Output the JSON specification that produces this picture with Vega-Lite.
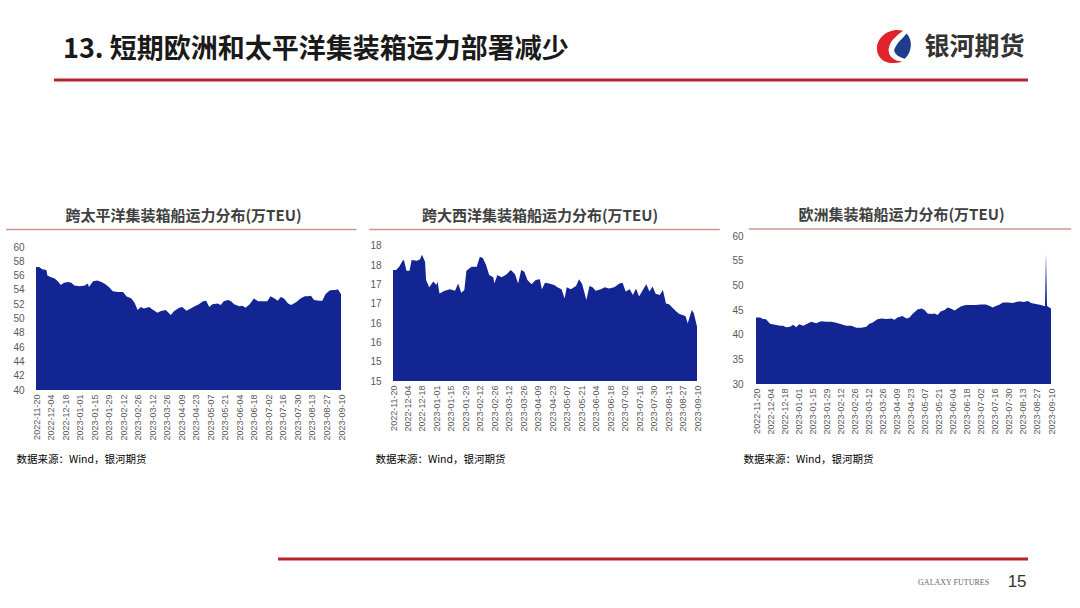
{
  "$schema": "https://vega.github.io/schema/vega-lite/v6.json",
  "padding": {"left": 5, "top": 20, "right": 0, "bottom": 0},
  "background": "white",
  "config": {
    "view": {"stroke": null},
    "font": "Noto Sans CJK SC",
    "title": {"fontSize": 15, "fontWeight": "bold", "color": "#404040", "offset": 5, "anchor": "middle", "font": "Noto Sans CJK SC"},
    "axis": {"labelFont": "Liberation Sans", "grid": false, "ticks": false, "domain": false}
  },
  "datasets": {
    "pac": [
      {"date": "2022-11-20", "v": 57.2}, {"date": "2022-11-23", "v": 57.2}, {"date": "2022-11-26", "v": 56.9}, {"date": "2022-11-30", "v": 56.8},
      {"date": "2022-12-01", "v": 56.0}, {"date": "2022-12-04", "v": 55.8}, {"date": "2022-12-08", "v": 55.6}, {"date": "2022-12-11", "v": 55.2},
      {"date": "2022-12-14", "v": 54.7}, {"date": "2022-12-17", "v": 55.0}, {"date": "2022-12-21", "v": 55.1}, {"date": "2022-12-24", "v": 55.0},
      {"date": "2022-12-27", "v": 54.6}, {"date": "2023-01-01", "v": 54.5}, {"date": "2023-01-06", "v": 54.6}, {"date": "2023-01-09", "v": 54.9},
      {"date": "2023-01-10", "v": 54.4}, {"date": "2023-01-14", "v": 55.2}, {"date": "2023-01-18", "v": 55.3}, {"date": "2023-01-22", "v": 55.1},
      {"date": "2023-01-26", "v": 54.8}, {"date": "2023-01-30", "v": 54.3}, {"date": "2023-02-02", "v": 53.8}, {"date": "2023-02-07", "v": 53.7},
      {"date": "2023-02-12", "v": 53.7}, {"date": "2023-02-15", "v": 53.1}, {"date": "2023-02-20", "v": 52.8}, {"date": "2023-02-23", "v": 52.2},
      {"date": "2023-02-26", "v": 51.2}, {"date": "2023-03-01", "v": 51.6}, {"date": "2023-03-04", "v": 51.4}, {"date": "2023-03-09", "v": 51.6},
      {"date": "2023-03-12", "v": 51.3}, {"date": "2023-03-17", "v": 50.8}, {"date": "2023-03-20", "v": 51.0}, {"date": "2023-03-25", "v": 51.2},
      {"date": "2023-03-27", "v": 50.9}, {"date": "2023-03-30", "v": 50.5}, {"date": "2023-04-02", "v": 51.0}, {"date": "2023-04-07", "v": 51.5},
      {"date": "2023-04-10", "v": 51.6}, {"date": "2023-04-14", "v": 51.1}, {"date": "2023-04-18", "v": 51.4}, {"date": "2023-04-23", "v": 51.8},
      {"date": "2023-04-26", "v": 52.0}, {"date": "2023-04-30", "v": 52.4}, {"date": "2023-05-03", "v": 52.5}, {"date": "2023-05-06", "v": 51.6},
      {"date": "2023-05-09", "v": 52.0}, {"date": "2023-05-14", "v": 52.1}, {"date": "2023-05-17", "v": 51.9}, {"date": "2023-05-20", "v": 52.4},
      {"date": "2023-05-24", "v": 52.6}, {"date": "2023-05-27", "v": 52.4}, {"date": "2023-05-30", "v": 52.0}, {"date": "2023-06-04", "v": 51.7},
      {"date": "2023-06-07", "v": 51.8}, {"date": "2023-06-10", "v": 51.5}, {"date": "2023-06-14", "v": 52.0}, {"date": "2023-06-18", "v": 52.8},
      {"date": "2023-06-22", "v": 52.4}, {"date": "2023-06-26", "v": 52.4}, {"date": "2023-07-01", "v": 52.4}, {"date": "2023-07-04", "v": 53.1},
      {"date": "2023-07-08", "v": 52.8}, {"date": "2023-07-11", "v": 52.5}, {"date": "2023-07-14", "v": 53.0}, {"date": "2023-07-17", "v": 52.8},
      {"date": "2023-07-21", "v": 52.1}, {"date": "2023-07-24", "v": 51.9}, {"date": "2023-07-29", "v": 52.3}, {"date": "2023-08-02", "v": 52.8},
      {"date": "2023-08-06", "v": 53.1}, {"date": "2023-08-09", "v": 53.1}, {"date": "2023-08-12", "v": 53.2}, {"date": "2023-08-15", "v": 52.6},
      {"date": "2023-08-20", "v": 52.5}, {"date": "2023-08-23", "v": 52.5}, {"date": "2023-08-26", "v": 53.4}, {"date": "2023-08-30", "v": 53.9},
      {"date": "2023-09-02", "v": 54.0}, {"date": "2023-09-05", "v": 54.0}, {"date": "2023-09-07", "v": 54.1}, {"date": "2023-09-10", "v": 53.4}
    ],
    "atl": [
      {"date": "2022-11-20", "v": 17.88}, {"date": "2022-11-23", "v": 17.88}, {"date": "2022-11-26", "v": 17.96}, {"date": "2022-11-30", "v": 18.15},
      {"date": "2022-12-01", "v": 18.09}, {"date": "2022-12-03", "v": 17.86}, {"date": "2022-12-06", "v": 17.86}, {"date": "2022-12-08", "v": 18.14},
      {"date": "2022-12-13", "v": 18.12}, {"date": "2022-12-16", "v": 18.15}, {"date": "2022-12-18", "v": 18.27}, {"date": "2022-12-21", "v": 18.09},
      {"date": "2022-12-22", "v": 17.62}, {"date": "2022-12-25", "v": 17.43}, {"date": "2022-12-29", "v": 17.58}, {"date": "2023-01-01", "v": 17.49},
      {"date": "2023-01-02", "v": 17.58}, {"date": "2023-01-04", "v": 17.27}, {"date": "2023-01-09", "v": 17.34}, {"date": "2023-01-14", "v": 17.38},
      {"date": "2023-01-19", "v": 17.34}, {"date": "2023-01-22", "v": 17.53}, {"date": "2023-01-25", "v": 17.29}, {"date": "2023-01-28", "v": 17.36},
      {"date": "2023-01-30", "v": 17.86}, {"date": "2023-02-04", "v": 17.96}, {"date": "2023-02-09", "v": 17.96}, {"date": "2023-02-12", "v": 18.22},
      {"date": "2023-02-15", "v": 18.18}, {"date": "2023-02-18", "v": 18.01}, {"date": "2023-02-21", "v": 17.75}, {"date": "2023-02-25", "v": 17.69},
      {"date": "2023-02-26", "v": 17.53}, {"date": "2023-03-01", "v": 17.75}, {"date": "2023-03-05", "v": 17.69}, {"date": "2023-03-10", "v": 17.77},
      {"date": "2023-03-14", "v": 17.88}, {"date": "2023-03-18", "v": 17.77}, {"date": "2023-03-21", "v": 17.53}, {"date": "2023-03-24", "v": 17.88},
      {"date": "2023-03-27", "v": 17.83}, {"date": "2023-03-30", "v": 17.62}, {"date": "2023-04-03", "v": 17.51}, {"date": "2023-04-07", "v": 17.62},
      {"date": "2023-04-11", "v": 17.64}, {"date": "2023-04-13", "v": 17.38}, {"date": "2023-04-16", "v": 17.55}, {"date": "2023-04-20", "v": 17.53},
      {"date": "2023-04-25", "v": 17.49}, {"date": "2023-04-28", "v": 17.43}, {"date": "2023-05-02", "v": 17.38}, {"date": "2023-05-05", "v": 17.14},
      {"date": "2023-05-07", "v": 17.43}, {"date": "2023-05-11", "v": 17.38}, {"date": "2023-05-16", "v": 17.46}, {"date": "2023-05-19", "v": 17.64},
      {"date": "2023-05-22", "v": 17.51}, {"date": "2023-05-26", "v": 17.10}, {"date": "2023-05-29", "v": 17.46}, {"date": "2023-06-01", "v": 17.43},
      {"date": "2023-06-04", "v": 17.34}, {"date": "2023-06-09", "v": 17.38}, {"date": "2023-06-13", "v": 17.43}, {"date": "2023-06-17", "v": 17.40},
      {"date": "2023-06-22", "v": 17.43}, {"date": "2023-06-27", "v": 17.53}, {"date": "2023-06-30", "v": 17.55}, {"date": "2023-07-03", "v": 17.32},
      {"date": "2023-07-07", "v": 17.38}, {"date": "2023-07-10", "v": 17.23}, {"date": "2023-07-13", "v": 17.40}, {"date": "2023-07-16", "v": 17.19},
      {"date": "2023-07-20", "v": 17.38}, {"date": "2023-07-23", "v": 17.51}, {"date": "2023-07-26", "v": 17.32}, {"date": "2023-07-29", "v": 17.45},
      {"date": "2023-08-01", "v": 17.26}, {"date": "2023-08-05", "v": 17.23}, {"date": "2023-08-08", "v": 17.36}, {"date": "2023-08-11", "v": 17.01},
      {"date": "2023-08-14", "v": 16.99}, {"date": "2023-08-18", "v": 16.88}, {"date": "2023-08-21", "v": 16.80}, {"date": "2023-08-24", "v": 16.74},
      {"date": "2023-08-27", "v": 16.71}, {"date": "2023-08-30", "v": 16.68}, {"date": "2023-09-01", "v": 16.49}, {"date": "2023-09-03", "v": 16.67},
      {"date": "2023-09-05", "v": 16.84}, {"date": "2023-09-07", "v": 16.75}, {"date": "2023-09-10", "v": 16.41}
    ],
    "eur": [
      {"date": "2022-11-20", "v": 43.5}, {"date": "2022-11-24", "v": 43.5}, {"date": "2022-11-27", "v": 43.2}, {"date": "2022-11-30", "v": 43.1},
      {"date": "2022-12-04", "v": 42.2}, {"date": "2022-12-09", "v": 42.0}, {"date": "2022-12-14", "v": 41.8}, {"date": "2022-12-17", "v": 41.8},
      {"date": "2022-12-20", "v": 41.5}, {"date": "2022-12-24", "v": 41.6}, {"date": "2022-12-27", "v": 42.0}, {"date": "2022-12-30", "v": 41.5},
      {"date": "2023-01-02", "v": 42.1}, {"date": "2023-01-06", "v": 41.8}, {"date": "2023-01-11", "v": 42.3}, {"date": "2023-01-14", "v": 42.6},
      {"date": "2023-01-19", "v": 42.3}, {"date": "2023-01-24", "v": 42.7}, {"date": "2023-01-29", "v": 42.6}, {"date": "2023-02-03", "v": 42.6},
      {"date": "2023-02-08", "v": 42.4}, {"date": "2023-02-13", "v": 42.1}, {"date": "2023-02-18", "v": 41.8}, {"date": "2023-02-23", "v": 41.8},
      {"date": "2023-02-28", "v": 41.4}, {"date": "2023-03-05", "v": 41.4}, {"date": "2023-03-10", "v": 41.6}, {"date": "2023-03-13", "v": 42.2},
      {"date": "2023-03-16", "v": 42.4}, {"date": "2023-03-21", "v": 43.1}, {"date": "2023-03-25", "v": 43.3}, {"date": "2023-03-30", "v": 43.2},
      {"date": "2023-04-04", "v": 43.3}, {"date": "2023-04-07", "v": 43.0}, {"date": "2023-04-10", "v": 43.5}, {"date": "2023-04-15", "v": 43.8},
      {"date": "2023-04-19", "v": 43.3}, {"date": "2023-04-22", "v": 43.5}, {"date": "2023-04-25", "v": 44.2}, {"date": "2023-04-30", "v": 45.1},
      {"date": "2023-05-04", "v": 45.3}, {"date": "2023-05-07", "v": 45.0}, {"date": "2023-05-10", "v": 44.3}, {"date": "2023-05-14", "v": 44.2},
      {"date": "2023-05-17", "v": 44.3}, {"date": "2023-05-20", "v": 44.0}, {"date": "2023-05-23", "v": 44.7}, {"date": "2023-05-27", "v": 45.0},
      {"date": "2023-05-30", "v": 45.5}, {"date": "2023-06-02", "v": 45.3}, {"date": "2023-06-06", "v": 44.9}, {"date": "2023-06-09", "v": 45.3},
      {"date": "2023-06-12", "v": 45.7}, {"date": "2023-06-17", "v": 46.0}, {"date": "2023-06-22", "v": 46.0}, {"date": "2023-06-27", "v": 46.0},
      {"date": "2023-07-02", "v": 46.1}, {"date": "2023-07-07", "v": 46.1}, {"date": "2023-07-11", "v": 45.8}, {"date": "2023-07-14", "v": 45.5},
      {"date": "2023-07-17", "v": 45.8}, {"date": "2023-07-21", "v": 46.1}, {"date": "2023-07-24", "v": 46.5}, {"date": "2023-07-29", "v": 46.5},
      {"date": "2023-08-03", "v": 46.4}, {"date": "2023-08-08", "v": 46.7}, {"date": "2023-08-11", "v": 46.7}, {"date": "2023-08-14", "v": 46.6},
      {"date": "2023-08-18", "v": 46.8}, {"date": "2023-08-21", "v": 46.4}, {"date": "2023-08-26", "v": 46.2}, {"date": "2023-08-31", "v": 46.0},
      {"date": "2023-09-03", "v": 45.8}, {"date": "2023-09-04", "v": 45.8}, {"date": "2023-09-05", "v": 56.5}, {"date": "2023-09-06", "v": 45.8},
      {"date": "2023-09-10", "v": 45.3}
    ]
  },
  "spacing": 126,
  "vconcat": [
    {
      "width": 992,
      "height": 60,
      "data": {"values": [{"title": "13. 短期欧洲和太平洋集装箱运力部署减少", "brand": "银河期货"}]},
      "layer": [
        {
          "mark": {"type": "rule", "color": "#B3252B", "strokeWidth": 3},
          "encoding": {
            "x": {"datum": 0.0181, "type": "quantitative", "scale": {"domain": [0, 1]}, "axis": null},
            "x2": {"datum": 1},
            "y": {"datum": 0, "type": "quantitative", "scale": {"domain": [0, 1]}, "axis": null}
          }
        },
        {
          "mark": {"type": "text", "align": "left", "baseline": "middle", "fontSize": 27, "fontWeight": "bold", "color": "#1A1A1A", "font": "Noto Sans CJK SC"},
          "encoding": {
            "x": {"datum": 0.0272, "type": "quantitative", "scale": {"domain": [0, 1]}, "axis": null},
            "y": {"datum": 0.5, "type": "quantitative", "scale": {"domain": [0, 1]}, "axis": null},
            "text": {"field": "title"}
          }
        },
        {
          "mark": {"type": "text", "align": "center", "baseline": "middle", "fontSize": 25, "fontWeight": "bold", "color": "#333333", "font": "Noto Sans CJK SC"},
          "encoding": {
            "x": {"datum": 0.946, "type": "quantitative", "scale": {"domain": [0, 1]}, "axis": null},
            "y": {"datum": 0.55, "type": "quantitative", "scale": {"domain": [0, 1]}, "axis": null},
            "text": {"field": "brand"}
          }
        },
        {
          "mark": {"type": "point", "filled": true, "size": 1296, "opacity": 1, "color": "#E0242C", "strokeWidth": 0,
                   "shape": "M0.5,-0.9 C-0.3,-1.1 -1,-0.5 -0.95,0.15 C-0.9,0.8 -0.2,1.05 0.45,0.8 C0.0,0.8 -0.35,0.5 -0.3,0.1 C-0.25,-0.3 0.1,-0.6 0.5,-0.9 Z"},
          "encoding": {
            "x": {"datum": 0.865, "type": "quantitative", "scale": {"domain": [0, 1]}, "axis": null},
            "y": {"datum": 0.55, "type": "quantitative", "scale": {"domain": [0, 1]}, "axis": null}
          }
        },
        {
          "mark": {"type": "point", "filled": true, "size": 1296, "opacity": 1, "color": "#1F3C8F", "strokeWidth": 0,
                   "shape": "M0.7,-0.75 C1.05,-0.4 1.0,0.3 0.6,0.65 C0.35,0.6 0.05,0.45 0.0,0.2 C0.1,-0.2 0.45,-0.45 0.7,-0.75 Z"},
          "encoding": {
            "x": {"datum": 0.865, "type": "quantitative", "scale": {"domain": [0, 1]}, "axis": null},
            "y": {"datum": 0.55, "type": "quantitative", "scale": {"domain": [0, 1]}, "axis": null}
          }
        }
      ]
    },
    {
      "spacing": 92,
      "vconcat": [
        {
          "spacing": 10,
          "hconcat": [
            {
              "width": 305,
              "height": 154,
              "title": {"text": "跨太平洋集装箱船运力分布(万TEU)", "dx": -5},
              "layer": [
                {
                  "data": {"name": "pac"},
                  "mark": {"type": "area", "color": "#122592", "interpolate": "linear"},
                  "encoding": {
                    "x": {"field": "date", "type": "temporal",
                          "scale": {"type": "utc", "nice": false, "domain": [{"year": 2022, "month": 11, "date": 20, "utc": true}, {"year": 2023, "month": 9, "date": 10, "utc": true}]},
                          "axis": {
                            "values": [
                              {"year": 2022, "month": 11, "date": 20, "utc": true}, {"year": 2022, "month": 12, "date": 4, "utc": true}, {"year": 2022, "month": 12, "date": 18, "utc": true},
                              {"year": 2023, "month": 1, "date": 1, "utc": true}, {"year": 2023, "month": 1, "date": 15, "utc": true}, {"year": 2023, "month": 1, "date": 29, "utc": true},
                              {"year": 2023, "month": 2, "date": 12, "utc": true}, {"year": 2023, "month": 2, "date": 26, "utc": true}, {"year": 2023, "month": 3, "date": 12, "utc": true},
                              {"year": 2023, "month": 3, "date": 26, "utc": true}, {"year": 2023, "month": 4, "date": 9, "utc": true}, {"year": 2023, "month": 4, "date": 23, "utc": true},
                              {"year": 2023, "month": 5, "date": 7, "utc": true}, {"year": 2023, "month": 5, "date": 21, "utc": true}, {"year": 2023, "month": 6, "date": 4, "utc": true},
                              {"year": 2023, "month": 6, "date": 18, "utc": true}, {"year": 2023, "month": 7, "date": 2, "utc": true}, {"year": 2023, "month": 7, "date": 16, "utc": true},
                              {"year": 2023, "month": 7, "date": 30, "utc": true}, {"year": 2023, "month": 8, "date": 13, "utc": true}, {"year": 2023, "month": 8, "date": 27, "utc": true},
                              {"year": 2023, "month": 9, "date": 10, "utc": true}
                            ],
                            "tickCount": 100,
                            "labelExpr": "utcFormat(datum.value, '%Y-%m-%d')",
                            "labelAngle": -90, "labelFontSize": 9, "labelColor": "#595959", "labelPadding": 4,
                            "labelOverlap": false, "labelFlush": false, "labelBound": false,
                            "title": "数据来源：Wind，银河期货", "titleAnchor": "start", "titleAlign": "left", "titleBaseline": "middle",
                            "titleX": -20, "titleY": 69, "titleFontSize": 10.5, "titleFontWeight": "normal", "titleColor": "#000000", "titleFont": "Noto Sans CJK SC"
                          }},
                    "y": {"field": "v", "type": "quantitative", "scale": {"domain": [40, 61.54], "zero": false, "nice": false},
                          "axis": {"values": [40, 42, 44, 46, 48, 50, 52, 54, 56, 58, 60], "format": "d", "tickCount": 100, "labelOverlap": false, "labelFontSize": 10, "labelColor": "#595959", "labelPadding": 12, "title": null}},
                    "y2": {"datum": 40}
                  }
                },
                {
                  "data": {"values": [{}]},
                  "mark": {"type": "rule", "color": "#C9968F", "strokeWidth": 1.5},
                  "encoding": {
                    "x": {"datum": {"year": 2022, "month": 10, "date": 22, "utc": true}, "type": "temporal"},
                    "x2": {"datum": {"year": 2023, "month": 9, "date": 25, "utc": true}},
                    "y": {"datum": 62.45, "type": "quantitative", "scale": {"domain": [40, 61.54], "zero": false, "nice": false}}
                  }
                }
              ]
            },
            {
              "width": 304,
              "height": 145,
              "title": {"text": "跨大西洋集装箱船运力分布(万TEU)", "dx": -5},
              "layer": [
                {
                  "data": {"name": "atl"},
                  "mark": {"type": "area", "color": "#122592", "interpolate": "linear"},
                  "encoding": {
                    "x": {"field": "date", "type": "temporal",
                          "scale": {"type": "utc", "nice": false, "domain": [{"year": 2022, "month": 11, "date": 20, "utc": true}, {"year": 2023, "month": 9, "date": 10, "utc": true}]},
                          "axis": {
                            "values": [
                              {"year": 2022, "month": 11, "date": 20, "utc": true}, {"year": 2022, "month": 12, "date": 4, "utc": true}, {"year": 2022, "month": 12, "date": 18, "utc": true},
                              {"year": 2023, "month": 1, "date": 1, "utc": true}, {"year": 2023, "month": 1, "date": 15, "utc": true}, {"year": 2023, "month": 1, "date": 29, "utc": true},
                              {"year": 2023, "month": 2, "date": 12, "utc": true}, {"year": 2023, "month": 2, "date": 26, "utc": true}, {"year": 2023, "month": 3, "date": 12, "utc": true},
                              {"year": 2023, "month": 3, "date": 26, "utc": true}, {"year": 2023, "month": 4, "date": 9, "utc": true}, {"year": 2023, "month": 4, "date": 23, "utc": true},
                              {"year": 2023, "month": 5, "date": 7, "utc": true}, {"year": 2023, "month": 5, "date": 21, "utc": true}, {"year": 2023, "month": 6, "date": 4, "utc": true},
                              {"year": 2023, "month": 6, "date": 18, "utc": true}, {"year": 2023, "month": 7, "date": 2, "utc": true}, {"year": 2023, "month": 7, "date": 16, "utc": true},
                              {"year": 2023, "month": 7, "date": 30, "utc": true}, {"year": 2023, "month": 8, "date": 13, "utc": true}, {"year": 2023, "month": 8, "date": 27, "utc": true},
                              {"year": 2023, "month": 9, "date": 10, "utc": true}
                            ],
                            "tickCount": 100,
                            "labelExpr": "utcFormat(datum.value, '%Y-%m-%d')",
                            "labelAngle": -90, "labelFontSize": 9, "labelColor": "#595959", "labelPadding": 4,
                            "labelOverlap": false, "labelFlush": false, "labelBound": false,
                            "title": "数据来源：Wind，银河期货", "titleAnchor": "start", "titleAlign": "left", "titleBaseline": "middle",
                            "titleX": -18, "titleY": 78, "titleFontSize": 10.5, "titleFontWeight": "normal", "titleColor": "#000000", "titleFont": "Noto Sans CJK SC"
                          }},
                    "y": {"field": "v", "type": "quantitative", "scale": {"domain": [15, 18.759], "zero": false, "nice": false},
                          "axis": {"values": [15, 15.5, 16, 16.5, 17, 17.5, 18, 18.5], "tickCount": 100, "labelOverlap": false, "labelExpr": "floor(datum.value)", "labelFontSize": 10, "labelColor": "#595959", "labelPadding": 12, "title": null}},
                    "y2": {"datum": 15}
                  }
                },
                {
                  "data": {"values": [{}]},
                  "mark": {"type": "rule", "color": "#C9968F", "strokeWidth": 1.5},
                  "encoding": {
                    "x": {"datum": {"year": 2022, "month": 10, "date": 28, "utc": true}, "type": "temporal"},
                    "x2": {"datum": {"year": 2023, "month": 10, "date": 2, "utc": true}},
                    "y": {"datum": 18.93, "type": "quantitative", "scale": {"domain": [15, 18.759], "zero": false, "nice": false}}
                  }
                }
              ]
            },
            {
              "width": 295,
              "height": 148,
              "title": {"text": "欧洲集装箱船运力分布(万TEU)", "dx": -2},
              "layer": [
                {
                  "data": {"name": "eur"},
                  "mark": {"type": "area", "color": "#122592", "interpolate": "linear"},
                  "encoding": {
                    "x": {"field": "date", "type": "temporal",
                          "scale": {"type": "utc", "nice": false, "domain": [{"year": 2022, "month": 11, "date": 20, "utc": true}, {"year": 2023, "month": 9, "date": 10, "utc": true}]},
                          "axis": {
                            "values": [
                              {"year": 2022, "month": 11, "date": 20, "utc": true}, {"year": 2022, "month": 12, "date": 4, "utc": true}, {"year": 2022, "month": 12, "date": 18, "utc": true},
                              {"year": 2023, "month": 1, "date": 1, "utc": true}, {"year": 2023, "month": 1, "date": 15, "utc": true}, {"year": 2023, "month": 1, "date": 29, "utc": true},
                              {"year": 2023, "month": 2, "date": 12, "utc": true}, {"year": 2023, "month": 2, "date": 26, "utc": true}, {"year": 2023, "month": 3, "date": 12, "utc": true},
                              {"year": 2023, "month": 3, "date": 26, "utc": true}, {"year": 2023, "month": 4, "date": 9, "utc": true}, {"year": 2023, "month": 4, "date": 23, "utc": true},
                              {"year": 2023, "month": 5, "date": 7, "utc": true}, {"year": 2023, "month": 5, "date": 21, "utc": true}, {"year": 2023, "month": 6, "date": 4, "utc": true},
                              {"year": 2023, "month": 6, "date": 18, "utc": true}, {"year": 2023, "month": 7, "date": 2, "utc": true}, {"year": 2023, "month": 7, "date": 16, "utc": true},
                              {"year": 2023, "month": 7, "date": 30, "utc": true}, {"year": 2023, "month": 8, "date": 13, "utc": true}, {"year": 2023, "month": 8, "date": 27, "utc": true},
                              {"year": 2023, "month": 9, "date": 10, "utc": true}
                            ],
                            "tickCount": 100,
                            "labelExpr": "utcFormat(datum.value, '%Y-%m-%d')",
                            "labelAngle": -90, "labelFontSize": 9, "labelColor": "#595959", "labelPadding": 4,
                            "labelOverlap": false, "labelFlush": false, "labelBound": false,
                            "title": "数据来源：Wind，银河期货", "titleAnchor": "start", "titleAlign": "left", "titleBaseline": "middle",
                            "titleX": -13, "titleY": 75, "titleFontSize": 10.5, "titleFontWeight": "normal", "titleColor": "#000000", "titleFont": "Noto Sans CJK SC"
                          }},
                    "y": {"field": "v", "type": "quantitative", "scale": {"domain": [30, 60], "zero": false, "nice": false},
                          "axis": {"values": [30, 35, 40, 45, 50, 55, 60], "format": "d", "tickCount": 100, "labelOverlap": false, "labelFontSize": 10, "labelColor": "#595959", "labelPadding": 13, "title": null}},
                    "y2": {"datum": 30}
                  }
                },
                {
                  "data": {"values": [{}]},
                  "mark": {"type": "rule", "color": "#C9968F", "strokeWidth": 1.5},
                  "encoding": {
                    "x": {"datum": {"year": 2022, "month": 11, "date": 13, "utc": true}, "type": "temporal"},
                    "x2": {"datum": {"year": 2023, "month": 9, "date": 30, "utc": true}},
                    "y": {"datum": 61.42, "type": "quantitative", "scale": {"domain": [30, 60], "zero": false, "nice": false}}
                  }
                }
              ]
            }
          ]
        },
        {
          "width": 992,
          "height": 32,
          "data": {"values": [{"brand": "GALAXY FUTURES", "page": "15"}]},
          "layer": [
            {
              "mark": {"type": "rule", "color": "#B3252B", "strokeWidth": 3},
              "encoding": {
                "x": {"datum": 0.244, "type": "quantitative", "scale": {"domain": [0, 1]}, "axis": null},
                "x2": {"datum": 1},
                "y": {"datum": 1, "type": "quantitative", "scale": {"domain": [0, 1]}, "axis": null}
              }
            },
            {
              "mark": {"type": "text", "align": "center", "baseline": "middle", "fontSize": 8, "color": "#666666", "font": "Liberation Serif"},
              "encoding": {
                "x": {"datum": 0.925, "type": "quantitative", "scale": {"domain": [0, 1]}, "axis": null},
                "y": {"datum": 0.25, "type": "quantitative", "scale": {"domain": [0, 1]}, "axis": null},
                "text": {"field": "brand"}
              }
            },
            {
              "mark": {"type": "text", "align": "center", "baseline": "middle", "fontSize": 17, "color": "#333333", "font": "Liberation Sans"},
              "encoding": {
                "x": {"datum": 0.989, "type": "quantitative", "scale": {"domain": [0, 1]}, "axis": null},
                "y": {"datum": 0.28, "type": "quantitative", "scale": {"domain": [0, 1]}, "axis": null},
                "text": {"field": "page"}
              }
            }
          ]
        }
      ]
    }
  ]
}
